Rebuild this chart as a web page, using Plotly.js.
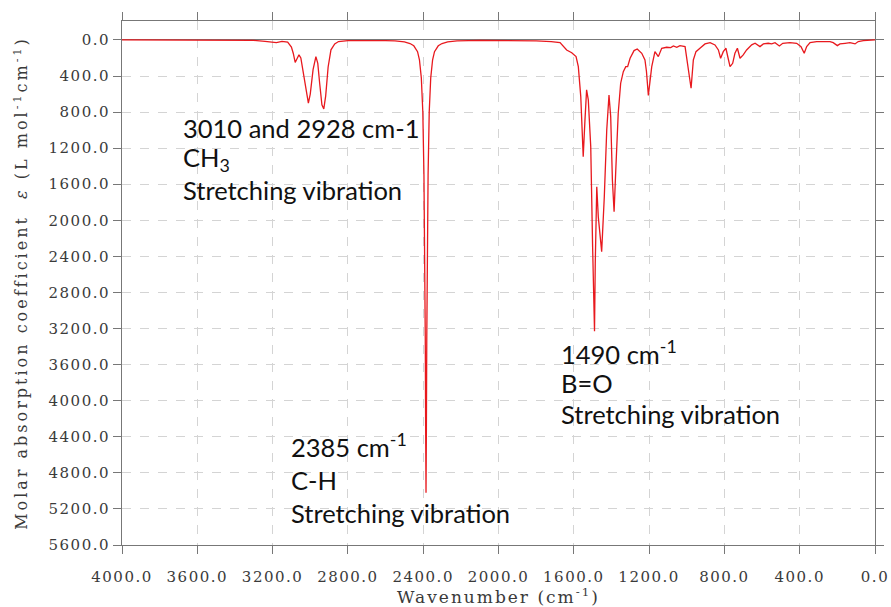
<!DOCTYPE html>
<html>
<head>
<meta charset="utf-8">
<script src="https://cdn.plot.ly/plotly-3.0.1.min.js"></script>
<style>
  html, body { margin: 0; padding: 0; background: #fff; }
  #chart { width: 891px; height: 607px; }
  .xtick text, .ytick text { letter-spacing: 1.5px; }
  .g-xtitle text { letter-spacing: 2px; }
  .g-ytitle text { letter-spacing: 3px; }
  .annotation-text { font-variant-ligatures: none; }
</style>
</head>
<body>
<div id="chart"></div>
<script>
// IR spectrum: molar absorption coefficient vs wavenumber
const wavenumber = [
  4000, 3700, 3400, 3300, 3240, 3200, 3180, 3150, 3120, 3100,
  3090, 3080, 3060, 3050, 3035, 3020, 3010, 3000, 2985, 2970,
  2960, 2950, 2938, 2928, 2918, 2905, 2890, 2870, 2850, 2800,
  2700, 2600, 2550, 2500, 2470, 2450, 2430, 2420, 2410, 2402,
  2396, 2392, 2389, 2387, 2385, 2383, 2381, 2378, 2374, 2368,
  2360, 2350, 2340, 2320, 2300, 2270, 2220, 2100, 2000, 1900,
  1800, 1720, 1690, 1673, 1638, 1611, 1588, 1576, 1563, 1550,
  1541, 1532, 1523, 1510, 1500, 1495, 1490, 1486, 1478, 1470,
  1452, 1438, 1425, 1413, 1404, 1395, 1386, 1377, 1364, 1351,
  1337, 1324, 1314, 1301, 1280, 1263, 1239, 1222, 1214, 1204,
  1195, 1186, 1169, 1151, 1133, 1107, 1085, 1071, 1053, 1036,
  1009, 992, 977, 965, 951, 930, 903, 876, 850, 832,
  820, 806, 792, 779, 770, 756, 744, 731, 717, 700,
  682, 655, 637, 611, 593, 567, 549, 531, 508, 490,
  452, 416, 393, 376, 363, 345, 310, 239, 222, 200,
  186, 159, 133, 106, 89, 62, 18, 0
];
const epsilon = [
  0, 0, 2, 5, 15, 25, 30, 15, 25, 80,
  150, 250, 165, 200, 400, 620, 700, 600, 330, 185,
  260, 480, 720, 765, 620, 300, 110, 45, 18, 8,
  5, 8, 10, 22, 40, 65, 130, 220, 420, 800,
  1500, 2300, 3300, 4300, 5020, 4300, 3300, 2300, 1500, 800,
  420, 220, 130, 65, 40, 22, 10, 5, 4, 6,
  10, 18, 25, 30, 111, 141, 185, 296, 628, 1294,
  900, 554, 665, 1183, 2300, 2900, 3230, 2475, 1627, 1959,
  2347, 1738, 998, 610, 850, 1552, 1904, 1442, 813, 480,
  351, 296, 296, 203, 118, 100, 148, 222, 350, 615,
  420, 296, 130, 185, 92, 81, 85, 67, 81, 63,
  74, 296, 536, 222, 130, 92, 44, 30, 55, 111,
  203, 130, 92, 214, 296, 259, 148, 92, 203, 166,
  111, 55, 37, 74, 44, 37, 44, 30, 67, 37,
  30, 37, 74, 148, 74, 30, 18, 18, 30, 63,
  44, 37, 30, 44, 18, 7, 0, 0
];

const xTickVals = [4000, 3600, 3200, 2800, 2400, 2000, 1600, 1200, 800, 400, 0];
const yTickVals = [0, 400, 800, 1200, 1600, 2000, 2400, 2800, 3200, 3600, 4000, 4400, 4800, 5200, 5600];

// band assignments, one entry per text line
const bandLabels = [
  { text: '3010 and 2928 cm-1', x: 3688, y: 976 },
  { text: 'CH<sub>3</sub>', x: 3688, y: 1320 },
  { text: 'Stretching vibration', x: 3688, y: 1663 },
  { text: '2385 cm<sup>-1</sup>', x: 3112, y: 4491 },
  { text: 'C-H', x: 3112, y: 4879 },
  { text: 'Stretching vibration', x: 3112, y: 5245 },
  { text: '1490 cm<sup>-1</sup>', x: 1678, y: 3460 },
  { text: 'B=O', x: 1678, y: 3804 },
  { text: 'Stretching vibration', x: 1678, y: 4148 }
];

const axisFont = { family: 'DejaVu Serif, serif', size: 15, color: '#3a3a3a' };

const trace = {
  x: wavenumber,
  y: epsilon,
  type: 'scatter',
  mode: 'lines',
  line: { color: '#e8191e', width: 1.3 },
  hoverinfo: 'x+y'
};

const layout = {
  width: 891,
  height: 607,
  margin: { l: 122, r: 16, t: 21, b: 62 },
  paper_bgcolor: '#ffffff',
  plot_bgcolor: '#ffffff',
  showlegend: false,
  xaxis: {
    range: [4000, 0],
    tickvals: xTickVals,
    tickformat: '.1f',
    tickfont: axisFont,
    ticks: 'outside',
    ticklen: 8,
    tickcolor: '#777',
    ticklabelstandoff: 10,
    showline: true,
    linecolor: '#777',
    linewidth: 1,
    mirror: 'ticks',
    showgrid: true,
    gridcolor: '#d4d4d4',
    griddash: 'dash',
    gridwidth: 1,
    zeroline: false,
    title: {
      text: 'Wavenumber (cm<sup>-1</sup>)',
      font: { family: 'DejaVu Serif, serif', size: 17, color: '#3a3a3a' },
      standoff: 3
    }
  },
  yaxis: {
    range: [5600, -210],
    tickvals: yTickVals,
    tickformat: '.1f',
    tickfont: axisFont,
    ticks: 'outside',
    ticklen: 8,
    tickcolor: '#777',
    showline: true,
    linecolor: '#777',
    linewidth: 1,
    mirror: 'ticks',
    showgrid: true,
    gridcolor: '#d4d4d4',
    griddash: 'dash',
    gridwidth: 1,
    zeroline: true,
    zerolinecolor: '#777',
    zerolinewidth: 1,
    title: {
      text: 'Molar absorption coefficient  <i>ε</i> (L mol<sup>-1</sup>cm<sup>-1</sup>)',
      font: { family: 'DejaVu Serif, serif', size: 16, color: '#3a3a3a' },
      standoff: 16
    }
  },
  annotations: bandLabels.map(b => ({
    text: b.text,
    x: b.x,
    y: b.y,
    xref: 'x',
    yref: 'y',
    xanchor: 'left',
    yanchor: 'middle',
    showarrow: false,
    font: { family: 'Lato, sans-serif', size: 25.5, color: '#111' }
  }))
};

Plotly.newPlot('chart', [trace], layout, { displayModeBar: false, staticPlot: true });
</script>
</body>
</html>
